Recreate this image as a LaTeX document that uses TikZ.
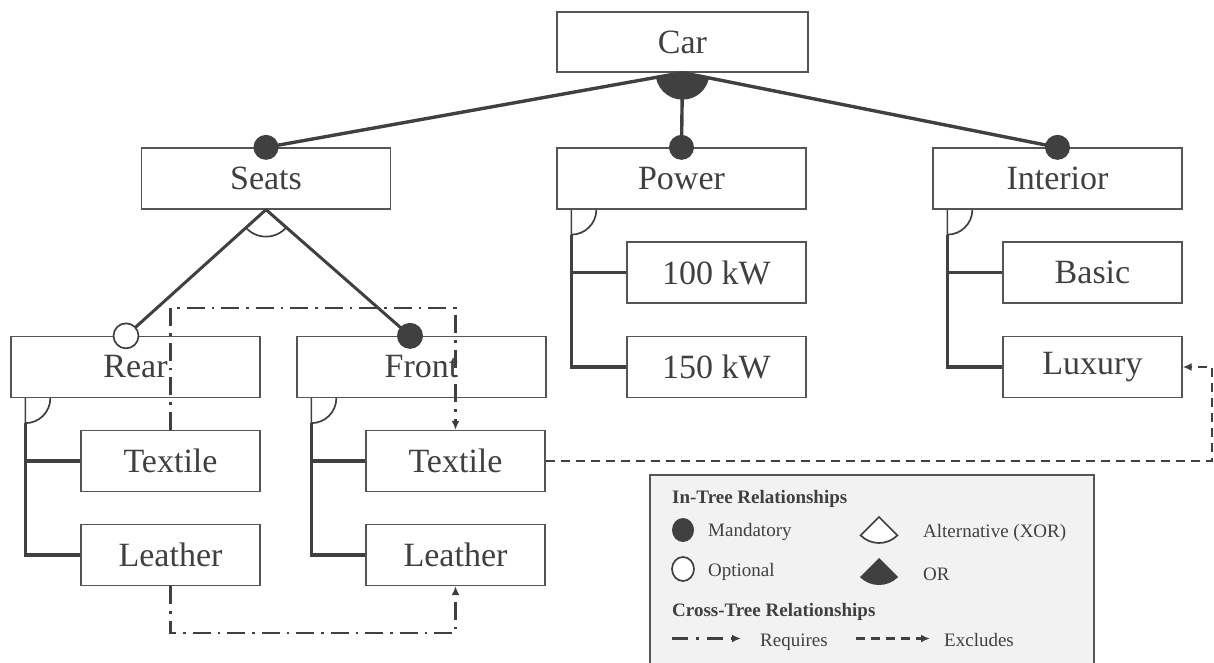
\documentclass[tikz,border=0pt]{standalone}
\usepackage{fontspec}
\setmainfont{Liberation Serif}
\usetikzlibrary{arrows.meta}
\definecolor{ink}{HTML}{404040}
\definecolor{edge}{HTML}{555555}
\definecolor{panel}{HTML}{F2F2F2}
\begin{document}
\begin{tikzpicture}[x=1pt,y=1pt,
  feat/.style={draw=edge, line width=1.3pt, fill=white, minimum width=249pt,
    minimum height=61pt, inner sep=0pt, text=ink, font=\fontsize{34}{40}\selectfont},
  sub/.style={feat, minimum width=179pt},
  tree/.style={draw=ink, line width=3.4pt},
  arcline/.style={draw=ink, line width=1.7pt},
  tip/.style={-{Latex[length=9pt,width=8pt]}},
  req/.style={draw=ink, line width=2.2pt, dash pattern=on 18pt off 7pt on 2.5pt off 7pt, tip},
  exc/.style={draw=ink, line width=2.4pt, dash pattern=on 9pt off 6pt, tip},
  legtext/.style={text=ink, font=\fontsize{19}{22}\selectfont, anchor=base west, inner sep=0pt},
  legbold/.style={legtext, font=\fontsize{19}{22}\selectfont\bfseries},
]
\useasboundingbox (0,0) rectangle (1214,-663);

% features
\node[feat, minimum width=251pt, minimum height=60pt] (car) at (682.5,-42) {Car};
\node[feat] (seats)    at (266,-178.5)    {Seats};
\node[feat] (power)    at (681.5,-178.5)  {Power};
\node[feat] (interior) at (1057.5,-178.5) {Interior};
\node[feat] (rear)     at (135.5,-367)    {Rear};
\node[feat] (front)    at (421.5,-367)    {Front};
\node[sub] (kw100)  at (716.5,-272.5)  {100 kW};
\node[sub] (kw150)  at (716.5,-367)    {150 kW};
\node[sub] (basic)  at (1092.5,-272.5) {Basic};
\node[sub] (luxury) at (1092.5,-367)   {Luxury};
\node[sub] (rtex) at (170.5,-461) {Textile};
\node[sub] (rlea) at (170.5,-555) {Leather};
\node[sub] (ftex) at (455.5,-461) {Textile};
\node[sub] (flea) at (455.5,-555) {Leather};

% OR group under Car
\fill[ink] (car.south) -- ++(190.3:27) arc (190.3:348.5:27) -- cycle;
\draw[tree] (car.south) -- (seats.north);
\draw[tree] (car.south) -- (power.north);
\draw[tree] (car.south) -- (interior.north);
\foreach \f in {seats,power,interior}
  \fill[ink] (\f.north) circle (12.5);

% XOR group under Seats
\coordinate (rearc)  at ([xshift=-9.5pt]rear.north);
\coordinate (frontc) at ([xshift=-11.5pt]front.north);
\draw[tree, line width=3pt] (seats.south) -- (rearc);
\draw[tree, line width=3pt] (seats.south) -- (frontc);
\draw[arcline] ([shift={(222.4:27)}]seats.south) arc (222.4:318.4:27);
\draw[ink, line width=1.7pt, fill=white] (rearc) circle (12.5);
\fill[ink] (frontc) circle (13);

% grouped children with the quarter-circle marker
\foreach \p/\a/\b in {power/kw100/kw150, interior/basic/luxury, rear/rtex/rlea, front/ftex/flea}{
  \coordinate (g) at ([xshift=15pt]\p.south west);
  \coordinate (gb) at ([xshift=15pt,yshift=-25pt]\p.south west);
  \draw[arcline] (g) -- (gb) arc (270:360:25);
  \draw[tree] (gb) |- (\b.west);
  \draw[tree] (gb |- \a.west) -- (\a.west);
}

% cross-tree constraints
\coordinate (reqtop) at (300,-308);
\coordinate (reqbot) at (300,-633);
\coordinate (excl)   at (1212,-420);
\draw[req] (rtex.north) |- (reqtop) -| (ftex.north);
\draw[req] (rlea.south) |- (reqbot) -| (flea.south);
\draw[exc] (ftex.east) -| (excl) |- (luxury.east);

% legend
\fill[panel] (650,-475) rectangle (1094,-670);
\draw[edge, line width=1.3pt] (650,-670) -- (650,-475) -- (1094,-475) -- (1094,-670);
\node[legbold] (lin) at (672,-503) {In-Tree Relationships};
\fill[ink] (683,-530) ellipse (11 and 12);
\node[legtext] (lman) at (708,-536) {Mandatory};
\draw[ink, line width=1.7pt, fill=white] (683,-569) ellipse (11 and 12);
\node[legtext] (lopt) at (708,-576) {Optional};
\draw[ink, line width=1.7pt, fill=white] (879,-517) -- ++(225:26) arc (225:315:26) -- cycle;
\node[legtext] (lxor) at (923,-537) {Alternative (XOR)};
\fill[ink] (879,-558) -- ++(225:27) arc (225:315:27) -- cycle;
\node[legtext] (lor) at (923,-580) {OR};
\node[legbold] (lcross) at (672,-616) {Cross-Tree Relationships};
\coordinate (rqa) at (672,-638.5);
\coordinate (rqb) at (741,-638.5);
\draw[req, dash pattern=on 16pt off 8pt on 2.5pt off 8pt] (rqa) -- (rqb);
\node[legtext] (lreq) at (760,-646) {Requires};
\coordinate (exa) at (856,-638.5);
\coordinate (exb) at (930,-638.5);
\draw[exc] (exa) -- (exb);
\node[legtext] (lexc) at (944,-646) {Excludes};
\end{tikzpicture}
\end{document}
